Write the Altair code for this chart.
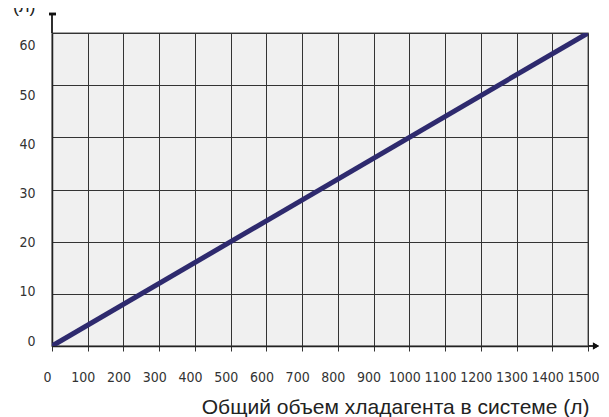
import altair as alt
import pandas as pd

x_vals = [0, 1500]
y_vals = [0, 60]
x_ticks = list(range(0, 1600, 100))
y_ticks = [0, 10, 20, 30, 40, 50, 60]

df = pd.DataFrame({"x": x_vals, "y": y_vals})

W, H = 536, 313
FONT = "'DejaVu Sans Condensed', Roboto, sans-serif"
TFONT = "Liberation Sans, Arial, sans-serif"

xscale = alt.Scale(domain=[0, 1500], nice=False, zero=False)
yscale = alt.Scale(domain=[0, 60], nice=False, zero=False)

# y labels in the reference sit on a slightly compressed spacing
y_label_offsets = {60: 12, 50: 10, 40: 7, 30: 4, 20: 1, 10: -2, 0: -5}
y_offset_cond = {
    "condition": [{"test": f"datum.value == {k}", "value": v} for k, v in y_label_offsets.items()],
    "value": 0,
}

line = alt.Chart(df).mark_line(color="#2e2a6e", strokeWidth=5, clip=True).encode(
    x=alt.X("x:Q", scale=xscale,
            axis=alt.Axis(values=x_ticks, format="d", grid=True, gridColor="#333333", gridWidth=1,
                          domain=True, domainColor="#222222", domainWidth=1.5,
                          ticks=True, tickSize=5, tickColor="#333333",
                          labelPadding=19, labelFont=FONT, labelFontSize=14, labelColor="#333333",
                          labelFlush=False, labelOverlap=False, labelOffset=-5,
                          title="Общий объем хладагента в системе (л)",
                          titleFont=TFONT, titleFontSize=21, titleFontWeight="normal",
                          titleColor="#222222", titleAnchor="end", titleAlign="right",
                          titleX=537, titleY=67, titleBaseline="alphabetic")),
    y=alt.Y("y:Q", scale=yscale,
            axis=alt.Axis(values=y_ticks, format="d", grid=True, gridColor="#333333", gridWidth=1,
                          domain=True, domainColor="#222222", domainWidth=1.5,
                          ticks=False, labelPadding=17,
                          labelFont=FONT, labelFontSize=14, labelColor="#333333",
                          labelBaseline="middle", labelOffset=y_offset_cond,
                          title="(л)", titleAngle=0, titleFont=TFONT, titleFontSize=18,
                          titleFontWeight="normal", titleColor="#222222",
                          titleX=-17, titleY=-22, titleAlign="right", titleBaseline="alphabetic")),
)

# axis extensions with arrow heads
x_ext = alt.Chart(df).mark_rule(color="#222222", strokeWidth=1.5).encode(
    x=alt.value(W), x2=alt.value(W + 9), y=alt.value(H))
x_arrow = alt.Chart(df).mark_point(shape="triangle-right", filled=True, color="#111111",
                                   size=50, opacity=1).encode(
    x=alt.value(W + 8), y=alt.value(H))
y_ext = alt.Chart(df).mark_rule(color="#222222", strokeWidth=1.5).encode(
    x=alt.value(0), y=alt.value(0), y2=alt.value(-19))
y_cap = alt.Chart(df).mark_rule(color="#111111", strokeWidth=2.5).encode(
    x=alt.value(-3), x2=alt.value(4), y=alt.value(-19))

chart = alt.layer(line, x_ext, x_arrow, y_ext, y_cap).properties(
    width=W, height=H,
    autosize=alt.AutoSizeParams(type="none"),
    padding={"left": 44, "top": 25, "right": 13, "bottom": 71},
).configure_view(fill="#f0f0f0", stroke="#888888", strokeWidth=1.5)

chart.save("out.html", embed_options={"renderer": "svg", "actions": False})
